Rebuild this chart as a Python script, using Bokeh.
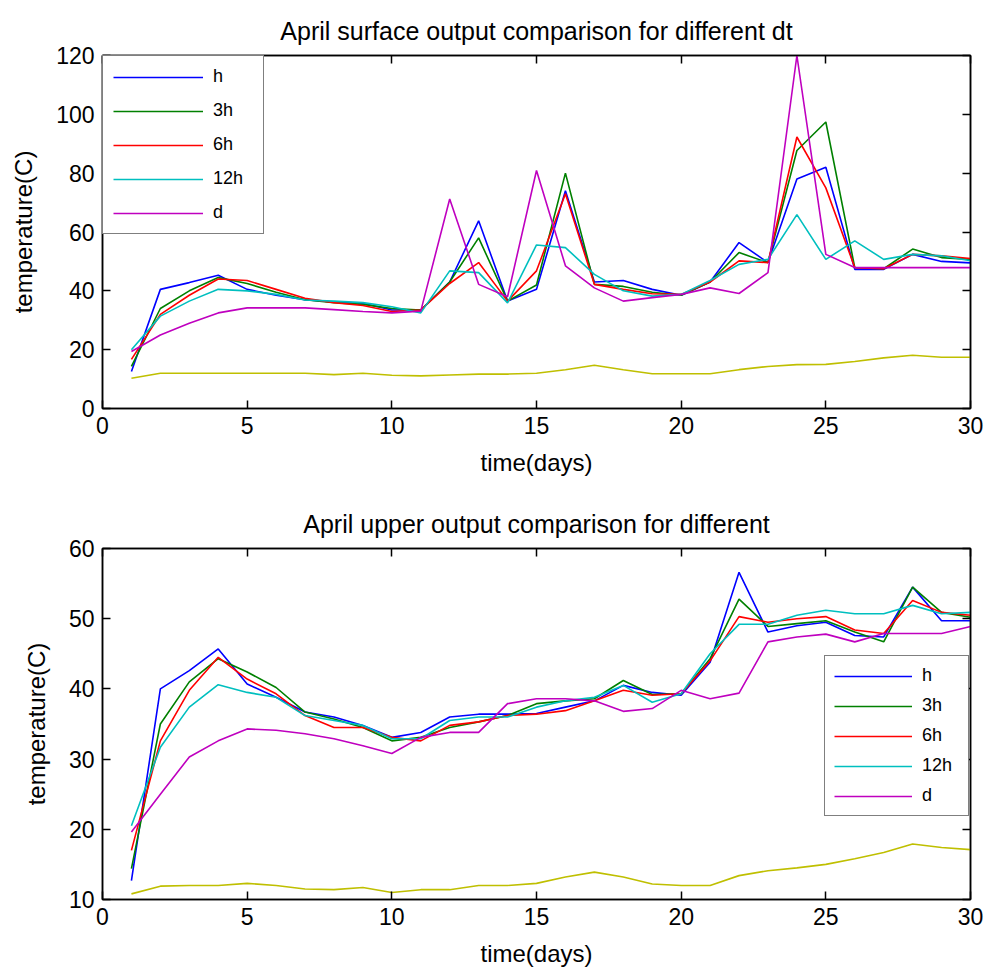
from bokeh.plotting import figure
from bokeh.layouts import column
from bokeh.models import Range1d, FixedTicker, LinearAxis, Legend, LegendItem
from bokeh.embed import file_html
from bokeh.resources import INLINE

days = list(range(1, 31))
labels = ["h", "3h", "6h", "12h", "d"]
colors = ["#0000ff", "#008000", "#ff0000", "#00bfbf", "#bf00bf"]
air_color = "#bfbf00"

# Surface output (top chart)
surf_h = [12.6, 40.5, 42.8, 45.3, 40.5, 38.5, 37.0, 36.2, 35.8, 33.5,
          33.5, 43.0, 63.8, 36.5, 40.5, 74.0, 43.0, 43.5, 40.5, 38.5,
          43.0, 56.4, 49.6, 78.0, 82.0, 47.3, 47.3, 52.4, 50.0, 49.5]
surf_3h = [14.3, 34.0, 40.0, 44.5, 42.5, 39.5, 37.0, 36.0, 35.4, 34.0,
           33.5, 43.0, 58.0, 36.5, 42.0, 80.0, 42.2, 41.5, 39.5, 38.5,
           43.0, 53.0, 49.6, 87.7, 97.4, 47.9, 47.5, 54.2, 51.3, 50.7]
surf_6h = [16.7, 32.0, 38.5, 44.0, 43.5, 40.5, 37.5, 36.0, 35.0, 33.0,
           33.5, 42.5, 49.6, 36.5, 46.8, 73.0, 42.2, 40.5, 39.0, 38.8,
           43.0, 50.2, 49.6, 92.3, 75.0, 47.9, 47.5, 52.4, 51.9, 51.0]
surf_12h = [20.0, 31.4, 36.5, 40.5, 40.0, 38.8, 36.9, 36.5, 36.0, 34.6,
            32.5, 46.8, 46.2, 35.9, 55.6, 54.7, 45.6, 40.0, 38.2, 38.8,
            43.5, 49.0, 50.7, 65.9, 50.7, 57.0, 50.7, 52.4, 51.9, 50.2]
surf_d = [19.4, 25.0, 29.0, 32.5, 34.2, 34.2, 34.2, 33.6, 33.0, 32.5,
          33.1, 71.2, 42.2, 38.0, 80.9, 48.5, 41.0, 36.5, 37.7, 38.8,
          41.0, 39.1, 46.2, 120.0, 52.4, 47.9, 47.9, 47.9, 47.9, 47.9]
surf_air = [10.3, 12.0, 12.0, 12.0, 12.0, 12.0, 12.0, 11.5, 12.0, 11.3,
            11.1, 11.4, 11.7, 11.7, 12.0, 13.2, 14.7, 13.2, 11.8, 11.8,
            11.8, 13.2, 14.3, 14.9, 15.0, 16.0, 17.2, 18.1, 17.4, 17.4]

# Upper output (bottom chart)
up_h = [12.7, 40.0, 42.6, 45.7, 40.7, 38.8, 36.7, 36.0, 34.8, 33.1,
        33.8, 36.0, 36.4, 36.4, 36.5, 37.4, 38.3, 40.5, 39.5, 39.1,
        43.8, 56.6, 48.1, 49.0, 49.5, 47.6, 47.4, 54.5, 49.7, 49.7]
up_3h = [14.4, 35.0, 41.0, 44.3, 42.4, 40.2, 36.7, 35.7, 34.5, 32.6,
         33.1, 34.5, 35.3, 36.2, 37.9, 38.3, 38.6, 41.2, 39.2, 39.3,
         44.3, 52.8, 48.9, 49.3, 49.7, 48.1, 46.7, 54.5, 50.9, 50.2]
up_6h = [17.0, 32.6, 39.8, 44.5, 41.4, 39.3, 36.2, 34.5, 34.5, 33.1,
         32.6, 34.8, 35.3, 36.2, 36.4, 36.9, 38.3, 39.8, 39.1, 39.3,
         44.0, 50.3, 49.5, 50.0, 50.3, 48.4, 47.9, 52.6, 50.9, 50.5]
up_12h = [20.5, 31.7, 37.4, 40.6, 39.5, 38.8, 36.2, 35.5, 34.8, 32.9,
          32.9, 35.5, 36.0, 36.0, 37.4, 38.3, 38.8, 40.5, 38.1, 39.3,
          45.0, 49.2, 49.2, 50.5, 51.2, 50.7, 50.7, 51.9, 50.7, 50.9]
up_d = [19.6, 25.0, 30.3, 32.6, 34.3, 34.1, 33.6, 32.9, 31.9, 30.8,
        33.1, 33.8, 33.8, 37.9, 38.6, 38.6, 38.3, 36.8, 37.2, 39.8,
        38.6, 39.4, 46.7, 47.4, 47.8, 46.7, 47.9, 47.9, 47.9, 48.9]
up_air = [10.8, 11.9, 12.0, 12.0, 12.3, 12.0, 11.5, 11.4, 11.7, 11.0,
          11.4, 11.4, 12.0, 12.0, 12.3, 13.2, 13.9, 13.2, 12.2, 12.0,
          12.0, 13.4, 14.1, 14.5, 15.0, 15.8, 16.7, 17.9, 17.4, 17.1]

x_ticks = [0, 5, 10, 15, 20, 25, 30]
top_y_ticks = [0, 20, 40, 60, 80, 100, 120]
bot_y_ticks = [10, 20, 30, 40, 50, 60]

FONT = "Liberation Sans"


def make_fig(title, series, air, yr, yticks, height, btop, bbottom):
    p = figure(width=985, height=height, output_backend="svg", toolbar_location=None,
               x_range=Range1d(0, 30), y_range=Range1d(*yr),
               min_border_left=102, min_border_right=15,
               min_border_top=btop, min_border_bottom=bbottom)
    p.title.text = title
    p.title.align = "center"
    p.title.text_font = FONT
    p.title.text_font_size = "25px"
    p.title.text_font_style = "normal"
    p.title.text_color = "black"
    p.title.standoff = 22
    p.grid.visible = False
    p.outline_line_color = "black"
    p.outline_line_width = 1.5
    p.background_fill_color = "white"
    p.border_fill_color = "white"

    for ax, tk in ((p.xaxis[0], x_ticks), (p.yaxis[0], yticks)):
        ax.ticker = FixedTicker(ticks=tk)
        ax.minor_tick_line_color = None
        ax.major_tick_in = 8
        ax.major_tick_out = 0
        ax.major_tick_line_width = 1.5
        ax.axis_line_width = 1.5
        ax.major_label_text_font = FONT
        ax.major_label_text_font_size = "23px"
        ax.major_label_text_color = "black"
        ax.major_label_standoff = 8
        ax.axis_label_text_font = FONT
        ax.axis_label_text_font_size = "24px"
        ax.axis_label_text_font_style = "normal"
        ax.axis_label_text_color = "black"
    p.xaxis.axis_label = "time(days)"
    p.yaxis.axis_label = "temperature(C)"
    p.xaxis.axis_label_standoff = 12
    p.yaxis.axis_label_standoff = 16

    for loc, tk in (("above", x_ticks), ("right", yticks)):
        ax = LinearAxis(ticker=FixedTicker(ticks=tk), major_label_text_color=None,
                        major_label_text_font_size="1px", major_tick_in=8, major_tick_out=0,
                        major_tick_line_width=1.5, axis_line_width=1.5,
                        minor_tick_line_color=None, major_label_standoff=0)
        p.add_layout(ax, loc)

    items = []
    for lab, col, vals in zip(labels, colors, series):
        r = p.line(days, vals, line_color=col, line_width=1.6)
        items.append(LegendItem(label=lab, renderers=[r]))
    p.line(days, air, line_color=air_color, line_width=1.6)
    return p, items


p1, items1 = make_fig("April surface output comparison for different dt",
                      [surf_h, surf_3h, surf_6h, surf_12h, surf_d], surf_air,
                      (0, 120), top_y_ticks, 490, 55, 82)
leg1 = Legend(items=items1, location="top_left", margin=0, padding=10,
              glyph_width=90, glyph_height=20, label_height=20, label_width=40,
              spacing=13, label_standoff=10, label_text_font=FONT,
              label_text_font_size="18px", label_text_color="black",
              border_line_color="black", border_line_width=1.5,
              background_fill_alpha=1.0)
p1.add_layout(leg1)

p2, items2 = make_fig("April upper output comparison for different",
                      [up_h, up_3h, up_6h, up_12h, up_d], up_air,
                      (10, 60), bot_y_ticks, 480, 58, 71)
leg2 = Legend(items=items2, location=(722, 83), margin=0, padding=9,
              glyph_width=78, glyph_height=20, label_height=20, label_width=37,
              spacing=9, label_standoff=10, label_text_font=FONT,
              label_text_font_size="18px", label_text_color="black",
              border_line_color="black", border_line_width=1.5,
              background_fill_alpha=1.0)
p2.add_layout(leg2)

layout = column(p1, p2, spacing=0)
open("out.html", "w").write(file_html(layout, INLINE))
